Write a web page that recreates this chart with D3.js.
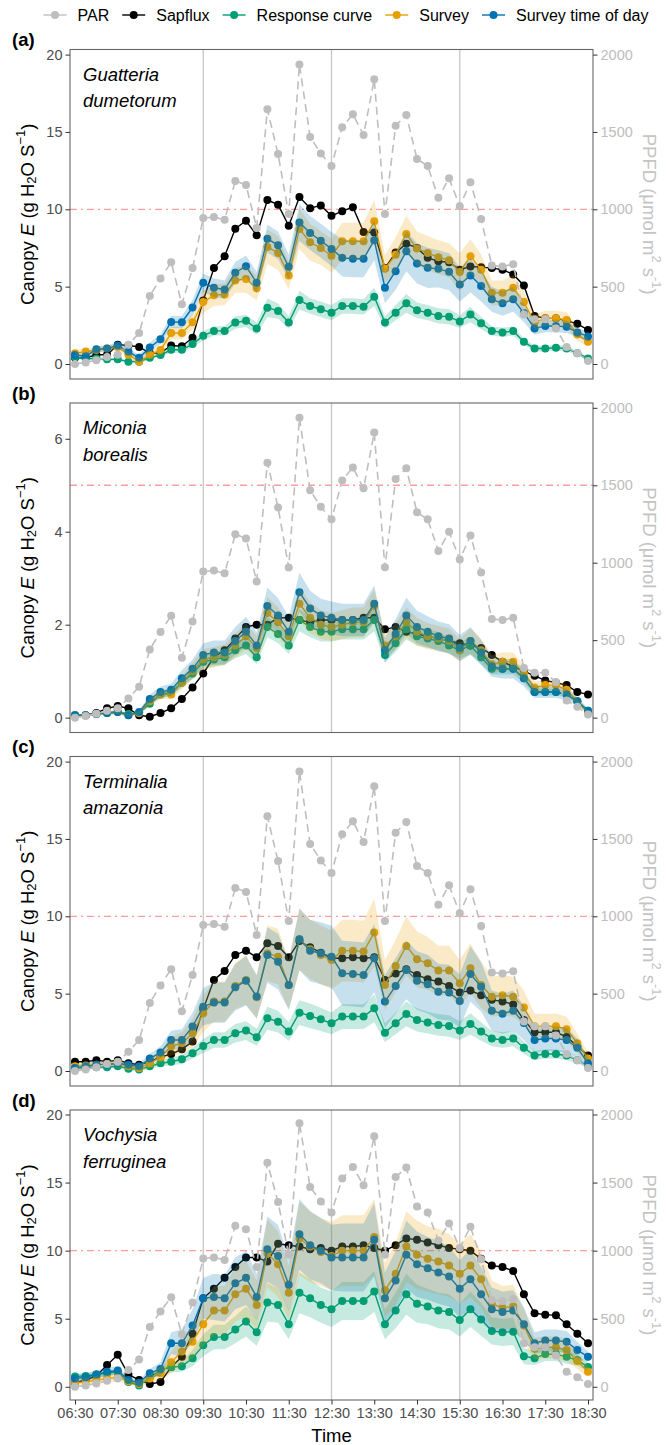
<!DOCTYPE html>
<html lang="en">
<head>
<meta charset="UTF-8">
<title>Canopy E</title>
<script src="https://d3js.org/d3.v7.min.js"></script>
<style>
  html, body { margin: 0; padding: 0; background: #fff; }
  text { font-family: "Liberation Sans", Arial, sans-serif; }
</style>
</head>
<body>
<script>
const width = 666;
const height = 1445;

// time of each observation, every 15 min
const times = ["06:30","06:45","07:00","07:15","07:30","07:45","08:00","08:15","08:30","08:45",
  "09:00","09:15","09:30","09:45","10:00","10:15","10:30","10:45","11:00","11:15",
  "11:30","11:45","12:00","12:15","12:30","12:45","13:00","13:15","13:30","13:45",
  "14:00","14:15","14:30","14:45","15:00","15:15","15:30","15:45","16:00","16:15",
  "16:30","16:45","17:00","17:15","17:30","17:45","18:00","18:15","18:30"];
const hourTicks = ["06:30","07:30","08:30","09:30","10:30","11:30","12:30","13:30","14:30","15:30","16:30","17:30","18:30"];
const vlines = ["09:30","12:30","15:30"];

const tags = ["(a)", "(b)", "(c)", "(d)"];
const species = [["Guatteria", "dumetorum"], ["Miconia", "borealis"], ["Terminalia", "amazonia"], ["Vochysia", "ferruginea"]];
const leftTicks = [[0, 5, 10, 15, 20], [0, 2, 4, 6], [0, 5, 10, 15, 20], [0, 5, 10, 15, 20]];
const rightTicks = [0, 500, 1000, 1500, 2000];
const parFactor = [100, 300, 100, 100];
const refLine = [10, 5, 10, 10];
const yDomains = [[-0.97, 20.33], [-0.32, 6.77], [-0.97, 20.33], [-0.97, 20.33]];

// PAR, µmol m-2 s-1 (same in every panel)
const par = [0,10,25,45,60,124,200,440,553,658,386,620,943,950,932,1183,1157,879,1646,1357,
  969,1936,1468,1361,1280,1530,1615,1480,1840,970,1540,1610,1325,1280,1075,1200,1020,1175,937,637,
  630,645,320,290,290,230,110,70,20];

// (a) Guatteria dumetorum
const sapA = [0.4,0.4,0.6,0.6,1.25,1.2,1.1,0.7,0.7,1.2,1.15,1.7,4.1,6.2,6.97,8.75,9.26,8.32,10.6,10.3,
  8.94,10.8,10.07,10.25,9.58,9.88,10.14,8.53,8.5,6.2,7.2,7.78,7.5,6.86,6.64,6.58,6.1,6.3,6.26,6.2,
  6.1,5.79,5.08,3.1,2.95,2.95,2.8,2.6,2.2];
const respA = [0.45,0.35,0.35,0.3,0.3,0.15,0.15,0.4,0.58,0.92,0.92,1.29,1.82,2.14,2.14,2.68,2.79,2.29,3.64,3.43,
  2.68,4.13,3.75,3.54,3.32,3.75,3.75,3.7,4.35,2.68,3.32,3.92,3.47,3.32,3.11,3.05,2.75,3.2,2.64,2.14,
  2.04,2.14,1.43,1.0,1.0,1.05,1.0,0.7,0.36];
const survA = [0.7,0.8,0.9,1.0,1.1,0.6,0.15,0.6,0.9,2.0,2.0,2.7,4.0,4.45,4.5,5.4,5.5,4.9,7.57,7.18,
  5.72,8.73,7.87,7.5,7.0,7.93,7.93,7.93,9.22,6.15,7.07,8.4,7.46,7.18,6.9,6.7,5.94,6.97,6.1,4.6,
  4.6,4.93,4.0,2.7,2.95,2.95,2.85,1.9,1.43];
const todA = [0.58,0.5,0.95,1.0,1.2,0.8,0.4,1.07,1.6,2.72,2.7,3.65,5.25,4.93,4.82,5.9,6.32,5.25,8.1,7.67,
  6.28,9.15,8.47,7.97,7.44,6.86,6.8,6.8,8.0,4.93,6.0,7.29,6.5,6.22,6.15,5.96,5.14,5.72,5.04,4.18,
  3.92,4.18,3.3,2.29,2.46,2.46,2.4,2.04,1.78];
const respBandA = [0.1,0.1,0.1,0.1,0.1,0.1,0.1,0.1,0.1,0.2,0.2,0.2,0.3,0.3,0.3,0.4,0.4,0.4,0.6,0.5,
  0.4,0.6,0.5,0.5,0.5,0.5,0.5,0.5,0.6,0.4,0.5,0.6,0.5,0.5,0.5,0.5,0.4,0.5,0.4,0.3,
  0.3,0.3,0.2,0.2,0.2,0.2,0.2,0.1,0.1];
const survBandA = [0.2,0.2,0.2,0.2,0.2,0.2,0.2,0.2,0.3,0.4,0.4,0.5,0.7,0.7,0.7,0.8,0.9,0.8,1.1,1.1,
  0.9,1.3,1.2,1.1,1.1,1.2,1.2,1.2,1.4,0.9,1.1,1.2,1.1,1.1,1.1,1.1,1.2,1.1,1.0,0.8,
  0.8,0.8,0.7,0.5,0.5,0.5,0.5,0.4,0.3];
const todBandA = [0.2,0.2,0.2,0.2,0.2,0.2,0.2,0.3,0.3,0.4,0.4,0.5,0.6,0.6,0.6,0.7,0.7,0.7,0.9,0.9,
  0.8,1.2,1.1,1.1,1.1,1.2,1.2,1.2,1.3,1.0,1.2,1.3,1.3,1.3,1.2,1.2,1.1,1.1,1.0,0.8,
  0.8,0.8,0.6,0.4,0.4,0.4,0.4,0.3,0.3];

// (b) Miconia borealis
const sapB = [0.05,0.05,0.1,0.2,0.25,0.2,0.05,0.02,0.1,0.2,0.4,0.65,0.95,1.3,1.45,1.7,1.95,2.0,2.0,2.15,
  2.15,2.1,2.05,2.1,2.1,2.1,2.1,2.15,2.15,1.9,1.95,1.85,1.8,1.75,1.7,1.65,1.6,1.55,1.5,1.35,
  1.2,1.1,1.0,0.9,0.8,0.75,0.7,0.55,0.5];
const respB = [0.05,0.05,0.08,0.1,0.12,0.08,0.1,0.3,0.5,0.55,0.75,0.95,1.2,1.25,1.3,1.45,1.55,1.3,1.95,1.8,
  1.55,2.1,1.95,1.85,1.85,1.9,1.9,1.9,2.1,1.35,1.6,1.9,1.75,1.7,1.65,1.55,1.45,1.55,1.3,1.05,
  1.05,1.05,0.85,0.55,0.55,0.55,0.5,0.35,0.15];
const survB = [0.05,0.05,0.08,0.1,0.12,0.05,0.1,0.35,0.5,0.5,0.75,1.0,1.25,1.3,1.35,1.55,1.75,1.5,2.25,2.05,
  1.75,2.45,2.15,2.0,1.95,2.0,2.05,2.05,2.4,1.55,1.75,2.05,1.85,1.75,1.7,1.65,1.45,1.65,1.45,1.15,
  1.2,1.2,0.95,0.65,0.7,0.7,0.6,0.35,0.1];
const todB = [0.05,0.05,0.08,0.1,0.12,0.05,0.12,0.4,0.55,0.6,0.85,1.05,1.35,1.4,1.4,1.65,1.85,1.55,2.4,2.2,
  1.85,2.7,2.35,2.2,2.15,2.1,2.1,2.1,2.45,1.45,1.8,2.2,1.95,1.85,1.75,1.7,1.5,1.65,1.4,1.1,
  1.05,1.05,0.85,0.55,0.55,0.55,0.5,0.35,0.15];
const respBandB = [0.02,0.02,0.02,0.03,0.03,0.03,0.03,0.05,0.08,0.08,0.1,0.12,0.15,0.15,0.15,0.17,0.18,0.15,0.22,0.2,
  0.18,0.24,0.22,0.21,0.21,0.22,0.22,0.22,0.24,0.16,0.19,0.22,0.2,0.2,0.19,0.18,0.17,0.18,0.15,0.12,
  0.12,0.12,0.1,0.07,0.07,0.07,0.06,0.05,0.03];
const survBandB = [0.03,0.03,0.03,0.04,0.04,0.03,0.04,0.08,0.1,0.1,0.14,0.18,0.22,0.22,0.23,0.26,0.28,0.25,0.34,0.32,
  0.28,0.36,0.33,0.31,0.3,0.31,0.32,0.32,0.36,0.25,0.28,0.32,0.3,0.28,0.27,0.27,0.24,0.27,0.24,0.2,
  0.2,0.2,0.17,0.12,0.12,0.12,0.11,0.07,0.03];
const todBandB = [0.03,0.03,0.03,0.04,0.04,0.03,0.04,0.1,0.12,0.13,0.17,0.2,0.25,0.26,0.26,0.3,0.32,0.28,0.4,0.37,
  0.32,0.42,0.38,0.36,0.35,0.35,0.35,0.35,0.4,0.27,0.32,0.38,0.35,0.33,0.32,0.31,0.28,0.3,0.27,0.22,
  0.21,0.21,0.18,0.13,0.13,0.13,0.12,0.09,0.05];

// (c) Terminalia amazonia
const sapC = [0.6,0.6,0.7,0.6,0.7,0.5,0.4,0.6,0.9,1.1,1.4,1.9,4.0,5.89,6.47,7.5,7.78,7.35,8.26,8.08,
  7.35,8.4,8.0,7.65,7.29,7.29,7.35,7.29,7.35,5.89,6.3,6.58,6.21,5.93,5.78,5.5,5.07,5.2,4.9,4.6,
  4.5,4.3,3.3,2.5,2.5,2.5,2.2,1.6,1.0];
const respC = [0.2,0.2,0.25,0.25,0.3,0.15,0.1,0.3,0.5,0.6,0.76,1.15,1.62,2.01,2.01,2.44,2.61,2.18,3.41,3.19,
  2.55,3.77,3.56,3.34,3.08,3.52,3.52,3.52,4.05,2.48,3.08,3.69,3.3,3.13,2.98,2.91,2.61,3.04,2.55,2.1,
  2.0,2.1,1.5,1.0,1.1,1.1,1.0,0.7,0.3];
const survC = [0.3,0.35,0.4,0.45,0.5,0.3,0.2,0.5,0.9,1.6,1.8,2.44,3.73,4.49,4.49,5.5,5.89,4.77,7.61,7.39,
  5.56,8.51,7.87,7.5,7.18,7.78,7.78,7.72,8.95,5.56,6.79,8.08,7.22,6.96,6.49,6.49,5.67,6.64,5.56,4.8,
  4.9,4.8,4.1,2.9,2.9,2.9,2.7,1.8,0.8];
const todC = [0.2,0.3,0.4,0.4,0.5,0.4,0.3,0.8,1.2,2.0,2.0,2.87,4.16,4.42,4.42,5.41,5.84,4.81,7.5,7.07,
  5.56,8.51,7.78,7.61,7.39,6.32,6.27,6.21,7.29,4.49,5.5,6.53,5.84,5.61,5.13,5.07,4.53,6.27,5.45,3.9,
  3.7,3.9,3.1,2.0,2.1,2.1,2.0,1.5,0.5];
const respBandC = [0.1,0.1,0.1,0.1,0.1,0.1,0.1,0.15,0.2,0.25,0.3,0.35,0.45,0.5,0.5,0.6,0.6,0.55,0.75,0.7,
  0.6,0.8,0.8,0.75,0.7,0.8,0.8,0.8,0.9,0.6,0.7,0.8,0.75,0.7,0.7,0.7,0.6,0.7,0.6,0.5,
  0.5,0.5,0.4,0.3,0.3,0.3,0.3,0.2,0.1];
const survBandC = [0.2,0.2,0.2,0.2,0.25,0.2,0.2,0.3,0.4,0.6,0.7,0.9,1.2,1.3,1.3,1.5,1.6,1.4,1.8,1.8,
  1.6,2.0,1.9,1.9,1.9,2.0,2.0,2.0,2.2,1.6,1.7,1.9,1.8,1.7,1.6,1.6,1.5,1.6,1.5,1.3,
  1.3,1.3,1.1,0.8,0.8,0.8,0.8,0.6,0.4];
const todBandC = [0.2,0.2,0.2,0.2,0.25,0.2,0.2,0.3,0.4,0.6,0.7,0.9,1.2,1.3,1.3,1.5,1.6,1.4,1.8,1.8,
  1.6,2.0,2.0,2.0,2.0,2.1,2.1,2.1,2.2,1.7,1.8,1.9,1.9,1.9,1.8,1.8,1.7,1.8,1.6,1.3,
  1.3,1.3,1.1,0.8,0.8,0.8,0.8,0.6,0.4];

// (d) Vochysia ferruginea
const sapD = [0.3,0.5,0.8,1.6,2.35,0.9,0.5,0.2,0.35,1.45,2.2,3.9,6.5,7.2,8.0,8.8,9.5,9.5,9.2,10.5,
  10.4,10.3,10.1,10.2,10.0,10.3,10.3,10.4,10.2,10.0,10.4,10.9,10.8,10.6,10.4,10.2,10.1,10.0,9.4,8.9,
  8.8,8.5,6.8,5.4,5.3,5.25,4.6,3.9,3.2];
const respD = [0.75,0.8,0.9,1.0,1.1,0.35,0.1,0.7,1.2,1.45,1.5,2.1,3.05,3.65,3.65,4.2,4.8,4.0,6.2,6.0,
  4.6,6.9,6.5,6.0,5.7,6.3,6.3,6.3,7.0,4.6,5.6,6.8,6.1,5.9,5.6,5.5,4.9,5.7,4.95,4.1,
  4.0,4.05,2.25,2.1,2.4,2.4,2.2,1.95,1.45];
const survD = [0.3,0.35,0.5,0.6,0.7,0.4,0.2,0.6,1.0,1.8,2.6,3.3,4.6,5.6,5.6,6.8,7.2,6.0,9.8,9.0,
  6.9,10.9,10.3,9.9,9.6,10.0,10.0,10.0,11.0,7.1,8.3,10.3,9.7,9.4,9.2,8.9,8.3,8.9,7.9,6.1,
  5.8,5.9,4.5,2.8,2.9,2.9,2.7,1.9,1.1];
const todD = [0.6,0.7,0.9,1.1,1.2,0.5,0.3,1.0,1.3,3.2,3.2,4.5,6.5,6.6,6.5,7.6,8.0,6.6,10.1,9.6,
  7.5,11.2,10.4,10.0,9.5,9.5,9.5,9.5,10.8,6.5,7.8,9.7,9.0,8.7,8.4,8.1,7.2,7.9,6.8,5.7,
  5.5,5.6,4.6,3.2,3.4,3.4,3.3,2.7,2.2];
const respBandD = [0.2,0.2,0.2,0.2,0.2,0.15,0.1,0.2,0.3,0.4,0.4,0.6,0.8,0.9,0.9,1.0,1.1,1.0,1.4,1.3,
  1.1,1.5,1.4,1.3,1.3,1.4,1.4,1.4,1.5,1.1,1.3,1.5,1.4,1.3,1.3,1.3,1.2,1.3,1.2,1.0,
  1.0,1.0,0.6,0.5,0.5,0.5,0.5,0.4,0.3];
const survBandD = [0.3,0.3,0.3,0.3,0.3,0.2,0.2,0.3,0.5,0.8,1.0,1.2,1.6,1.8,1.8,2.0,2.1,1.8,2.5,2.4,
  2.0,2.7,2.6,2.5,2.5,2.6,2.6,2.6,2.8,2.0,2.3,2.6,2.5,2.4,2.4,2.3,2.2,2.3,2.1,1.7,
  1.6,1.6,1.3,0.8,0.8,0.8,0.8,0.6,0.4];
const todBandD = [0.3,0.3,0.3,0.3,0.3,0.2,0.2,0.3,0.5,0.8,1.0,1.2,1.5,1.7,1.7,1.9,2.0,1.7,2.4,2.3,
  1.9,2.6,2.5,2.4,2.4,2.5,2.5,2.5,2.7,1.9,2.2,2.5,2.4,2.3,2.3,2.2,2.1,2.2,2.0,1.6,
  1.5,1.5,1.2,0.8,0.8,0.8,0.8,0.6,0.4];

const colors = { par: "#BEBEBE", sap: "#000000", resp: "#009E73", surv: "#E69F00", tod: "#0072B2" };
const legendItems = [["PAR", colors.par], ["Sapflux", colors.sap], ["Response curve", colors.resp],
  ["Survey", colors.surv], ["Survey time of day", colors.tod]];

const panels = [
  { sap: sapA, resp: respA, surv: survA, tod: todA, bands: [respBandA, survBandA, todBandA] },
  { sap: sapB, resp: respB, surv: survB, tod: todB, bands: [respBandB, survBandB, todBandB] },
  { sap: sapC, resp: respC, surv: survC, tod: todC, bands: [respBandC, survBandC, todBandC] },
  { sap: sapD, resp: respD, surv: survD, tod: todD, bands: [respBandD, survBandD, todBandD] }
];

const panelTop = [49.5, 403, 756.5, 1110];
const panelBottom = [379, 732.5, 1086, 1400];
const left = 70, right = 593;
const ptR = 4;

const parseT = d3.timeParse("%H:%M");
const tx = times.map(parseT);
const x = d3.scaleTime().domain([parseT("06:23"), parseT("18:37")]).range([left, right]);

const svg = d3.select("body").append("svg")
  .attr("width", width)
  .attr("height", height)
  .style("display", "block");

panels.forEach((p, k) => {
  const top = panelTop[k], bottom = panelBottom[k];
  const y = d3.scaleLinear().domain(yDomains[k]).range([bottom, top]);
  const yR = d3.scaleLinear().domain(yDomains[k].map(v => v * parFactor[k])).range([bottom, top]);
  const g = svg.append("g");

  g.append("clipPath").attr("id", "clip" + k)
    .append("rect").attr("x", left).attr("y", top).attr("width", right - left).attr("height", bottom - top);
  const plot = g.append("g").attr("clip-path", `url(#clip${k})`);

  // vertical reference times
  plot.selectAll(".vl").data(vlines).join("line")
    .attr("x1", d => x(parseT(d))).attr("x2", d => x(parseT(d)))
    .attr("y1", top).attr("y2", bottom)
    .attr("stroke", "#c6c6c6").attr("stroke-width", 1.3);

  plot.append("line")
    .attr("x1", left).attr("x2", right)
    .attr("y1", y(refLine[k])).attr("y2", y(refLine[k]))
    .attr("stroke", "#ff9d9d").attr("stroke-width", 1.3)
    .attr("stroke-dasharray", "7,4,2,4");

  const line = d3.line().x((d, i) => x(tx[i])).y(d => y(d));

  function drawSeries(vals, color) {
    plot.append("path").datum(vals)
      .attr("fill", "none").attr("stroke", color).attr("stroke-width", 1.4)
      .attr("d", line);
    plot.append("g").selectAll("circle").data(vals).join("circle")
      .attr("cx", (d, i) => x(tx[i])).attr("cy", d => y(d))
      .attr("r", ptR).attr("fill", color);
  }

  drawSeries(p.sap, colors.sap);
  drawSeries(p.resp, colors.resp);
  drawSeries(p.surv, colors.surv);
  drawSeries(p.tod, colors.tod);

  const bandSeries = [[p.resp, colors.resp], [p.surv, colors.surv], [p.tod, colors.tod]];
  bandSeries.forEach(([vals, color], j) => {
    const hw = p.bands[j];
    const area = d3.area()
      .x((d, i) => x(tx[i]))
      .y0((d, i) => y(d - hw[i]))
      .y1((d, i) => y(d + hw[i]));
    plot.append("path").datum(vals)
      .attr("fill", color).attr("fill-opacity", 0.22)
      .attr("d", area);
  });

  // PAR on the secondary axis
  const parLine = d3.line().x((d, i) => x(tx[i])).y(d => yR(d));
  plot.append("path").datum(par)
    .attr("fill", "none").attr("stroke", colors.par).attr("stroke-width", 1.6)
    .attr("stroke-dasharray", "8,5")
    .attr("d", parLine);
  plot.append("g").selectAll("circle").data(par).join("circle")
    .attr("cx", (d, i) => x(tx[i])).attr("cy", d => yR(d))
    .attr("r", ptR).attr("fill", colors.par);

  g.append("rect")
    .attr("x", left).attr("y", top).attr("width", right - left).attr("height", bottom - top)
    .attr("fill", "none").attr("stroke", "#666").attr("stroke-width", 1.1);

  // left axis
  const ax = g.append("g").attr("transform", `translate(${left},0)`)
    .call(d3.axisLeft(y).tickValues(leftTicks[k]).tickSize(4.5).tickPadding(3));
  ax.select(".domain").remove();
  ax.selectAll("line").attr("stroke", "#333");
  ax.selectAll("text").attr("fill", "#4d4d4d").style("font-size", "14.5px")
    .style("font-family", "'Liberation Sans', Arial, sans-serif");

  // right axis
  const axr = g.append("g").attr("transform", `translate(${right},0)`)
    .call(d3.axisRight(yR).tickValues(rightTicks).tickFormat(d3.format("d")).tickSize(4.5).tickPadding(3));
  axr.select(".domain").remove();
  axr.selectAll("line").attr("stroke", "#333");
  axr.selectAll("text").attr("fill", "#bdbdbd").style("font-size", "14.5px")
    .style("font-family", "'Liberation Sans', Arial, sans-serif");

  // tag and species
  g.append("text").attr("x", 12).attr("y", top - 3.5)
    .style("font-weight", "bold").style("font-size", "18.5px").text(tags[k]);
  species[k].forEach((s, i) => {
    g.append("text").attr("x", 83).attr("y", top + 31 + i * 26.5)
      .style("font-style", "italic").style("font-size", "18.5px").text(s);
  });

  // y title
  const cy = (top + bottom) / 2;
  const yt = g.append("text")
    .attr("transform", `translate(27,${cy}) rotate(-90)`)
    .attr("text-anchor", "middle").attr("dominant-baseline", "central")
    .style("font-size", "18.5px").attr("fill", "#000");
  yt.append("tspan").text("Canopy ");
  yt.append("tspan").style("font-style", "italic").text("E");
  yt.append("tspan").text(" (g H");
  yt.append("tspan").attr("dy", 4).style("font-size", "13px").text("2");
  yt.append("tspan").attr("dy", -4).text("O S");
  yt.append("tspan").attr("dy", -7).style("font-size", "13px").text("\u22121");
  yt.append("tspan").attr("dy", 7).text(")");

  const rt = g.append("text")
    .attr("transform", `translate(650,${cy}) rotate(90)`)
    .attr("text-anchor", "middle").attr("dominant-baseline", "central")
    .style("font-size", "18.5px").attr("fill", "#c4c4c4");
  rt.append("tspan").text("PPFD (\u03bcmol m");
  rt.append("tspan").attr("dy", -7).style("font-size", "13px").text("2");
  rt.append("tspan").attr("dy", 7).text(" s");
  rt.append("tspan").attr("dy", -7).style("font-size", "13px").text("-1");
  rt.append("tspan").attr("dy", 7).text(")");

  if (k === panels.length - 1) {
    const xa = g.append("g").attr("transform", `translate(0,${bottom})`)
      .call(d3.axisBottom(x).tickValues(hourTicks.map(parseT)).tickFormat(d3.timeFormat("%H:%M"))
        .tickSize(4.5).tickPadding(3));
    xa.select(".domain").remove();
    xa.selectAll("line").attr("stroke", "#333");
    xa.selectAll("text").attr("fill", "#4d4d4d").style("font-size", "14.5px")
      .style("font-family", "'Liberation Sans', Arial, sans-serif");
    g.append("text").attr("x", (left + right) / 2).attr("y", bottom + 42)
      .attr("text-anchor", "middle").style("font-size", "18.5px").text("Time");
  }
});

// legend
const lg = svg.append("g");
let cx = 0;
legendItems.forEach(([name, color]) => {
  const it = lg.append("g").attr("transform", `translate(${cx},0)`);
  it.append("line").attr("x1", 0).attr("x2", 23).attr("y1", 0).attr("y2", 0)
    .attr("stroke", color).attr("stroke-width", 1.4);
  it.append("circle").attr("cx", 11.5).attr("cy", 0).attr("r", ptR).attr("fill", color);
  const t = it.append("text").attr("x", 34).attr("y", 0).attr("dominant-baseline", "central")
    .style("font-size", "16px").text(name);
  cx += 34 + t.node().getComputedTextLength() + 13;
});
const legendW = cx - 13;
lg.attr("transform", `translate(${346 - legendW / 2},15)`);
</script>
</body>
</html>
